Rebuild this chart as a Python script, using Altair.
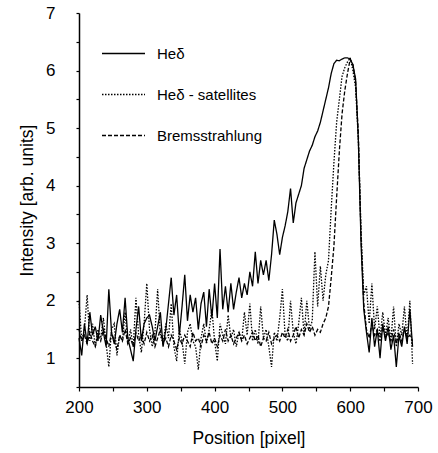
import altair as alt
import pandas as pd

positions = list(range(200, 693, 4))

he_delta = [
    1.35, 1.05, 1.6, 1.25, 1.8, 1.4, 1.55, 1.3, 1.75, 1.45, 1.2, 2.2, 1.45, 1.25, 1.6, 1.85, 1.45, 2.05, 1.35, 1.15, 0.95, 1.5, 1.9, 1.3, 1.6,
    1.7, 1.75, 1.55, 1.3, 1.55, 1.8, 1.2, 1.5, 1.95, 2.4, 1.75, 2.1, 1.4, 1.9, 2.45, 1.65, 2.1, 1.8, 2.05, 1.5, 1.95, 2.15, 1.55, 2.2, 1.7,
    2.3, 1.7, 2.9, 1.85, 2.25, 1.8, 2.3, 1.85, 2.15, 2.4, 2.05, 2.3, 2.1, 2.5, 2.25, 2.85, 2.3, 2.7, 2.45, 2.7, 2.35, 2.8, 3.4, 3.15, 2.8,
    3.1, 3.3, 3.55, 3.95, 3.35, 3.7, 3.85, 4.0, 4.3, 4.45, 4.6, 4.7, 4.85, 4.95, 5.1, 5.3, 5.5, 5.7, 5.95, 6.12, 6.18, 6.17, 6.2, 6.22, 6.22,
    6.2, 6.1, 5.85, 4.8, 3.0, 1.85, 1.45, 1.1, 1.7, 1.2, 1.5, 1.0, 1.6, 1.3, 1.55, 1.15, 1.4, 0.85, 1.4, 1.2, 1.55, 1.25, 1.85, 1.2,
]

satellites = [
    2.0, 1.3, 1.5, 2.1, 1.3, 1.6, 1.2, 1.5, 1.35, 1.7, 1.25, 0.85, 1.5, 1.6, 1.05, 1.4, 1.3, 1.8, 1.25, 1.5, 1.2, 2.05, 1.4, 1.1, 1.6,
    2.3, 1.5, 1.2, 1.45, 2.2, 1.4, 1.25, 1.6, 1.35, 1.95, 1.2, 0.95, 1.5, 1.3, 0.9, 1.45, 1.6, 1.3, 1.2, 0.8, 1.35, 1.6, 1.25, 1.5, 1.85,
    1.3, 0.95, 1.6, 1.4, 1.25, 1.75, 1.35, 1.5, 1.2, 1.45, 1.3, 1.8, 1.4, 1.95, 1.3, 1.5, 1.25, 1.9, 1.35, 1.5, 1.2, 0.85, 1.45, 1.3, 1.7,
    2.2, 1.4, 1.3, 2.0, 1.45, 1.25, 1.6, 2.05, 1.4, 2.0, 1.5, 1.65, 2.85, 1.9, 2.6, 2.0, 2.45, 2.7, 3.6, 4.4, 5.1, 5.5, 5.9, 6.05, 6.15,
    6.22, 6.0, 5.7, 4.8, 3.2, 2.1, 2.25, 1.6, 2.3, 1.5, 1.9, 1.35, 1.8, 1.4, 1.7, 1.3, 1.9, 1.2, 1.6, 1.4, 1.9, 1.3, 2.0, 0.9,
]

bremsstrahlung = [
    1.5, 1.3, 1.4, 1.25, 1.45, 1.3, 1.2, 1.4, 1.3, 1.5, 1.35, 1.2, 1.45, 1.3, 1.15, 1.4, 1.3, 1.5, 1.25, 1.35, 1.2, 1.45, 1.3, 1.4, 1.25,
    1.45, 1.3, 1.4, 1.2, 1.35, 1.5, 1.25, 1.35, 1.2, 1.4, 1.3, 1.15, 1.35, 1.25, 1.4, 1.3, 1.2, 1.45, 1.3, 1.35, 1.2, 1.4, 1.3, 1.45, 1.25,
    1.35, 1.2, 1.4, 1.3, 1.5, 1.3, 1.4, 1.25, 1.35, 1.45, 1.3, 1.4, 1.25, 1.35, 1.45, 1.3, 1.4, 1.2, 1.35, 1.3, 1.45, 1.25, 1.35, 1.4, 1.3,
    1.45, 1.35, 1.5, 1.3, 1.4, 1.55, 1.35, 1.5, 1.4, 1.6, 1.45, 1.55, 1.4, 1.5, 1.45, 1.6, 1.7, 1.9, 2.4, 2.95, 3.8, 4.6, 5.25, 5.65, 5.95,
    6.2, 6.1, 5.8, 4.9, 3.1, 1.95, 1.5, 1.35, 1.6, 1.4, 1.5, 1.3, 1.55, 1.35, 1.45, 1.3, 1.5, 1.25, 1.45, 1.3, 1.5, 1.35, 1.4, 1.3,
]

series_names = ["He\u03b4", "He\u03b4 - satellites", "Bremsstrahlung"]
x_ticks = list(range(200, 701, 50))
y_ticks = [v / 2 for v in range(1, 15)]

rows = []
for name, vals in zip(series_names, [he_delta, satellites, bremsstrahlung]):
    for p, v in zip(positions, vals):
        rows.append({"Position": p, "Intensity": v, "Series": name})
df = pd.DataFrame(rows)

FONT = "Liberation Sans"

chart = alt.Chart(df).mark_line(color="black", strokeWidth=1.3).encode(
    x=alt.X(
        "Position:Q",
        scale=alt.Scale(domain=[200, 700], nice=False, zero=False),
        axis=alt.Axis(
            title="Position [pixel]",
            values=x_ticks,
            labelExpr="datum.value % 100 == 0 ? format(datum.value, 'd') : ''",
            grid=False,
            tickSize=4,
            labelPadding=8,
            titlePadding=14,
            labelFlush=False,
        ),
    ),
    y=alt.Y(
        "Intensity:Q",
        scale=alt.Scale(domain=[0.5, 7], nice=False, zero=False),
        axis=alt.Axis(
            title="Intensity [arb. units]",
            values=y_ticks,
            labelExpr="datum.value % 1 == 0 ? format(datum.value, 'd') : ''",
            grid=False,
            tickSize=3,
            labelPadding=21,
            titlePadding=9,
            labelFlush=False,
        ),
    ),
    strokeDash=alt.StrokeDash(
        "Series:N",
        scale=alt.Scale(domain=series_names, range=[[1, 0], [1.5, 1.5], [4, 2]]),
        legend=alt.Legend(
            title=None,
            orient="none",
            legendX=22,
            legendY=18,
            symbolType="stroke",
            symbolSize=1849,
            symbolStrokeWidth=1.5,
            symbolStrokeColor="black",
            labelFontSize=15,
            labelFont=FONT,
            labelColor="black",
            labelOffset=11,
            rowPadding=10,
            padding=0,
        ),
    ),
    order=alt.Order("Position:Q"),
).properties(
    width=339,
    height=374,
    autosize=alt.AutoSizeParams(type="none"),
    padding={"left": 79, "top": 13, "right": 20, "bottom": 66},
    background="white",
).configure_view(
    stroke=None
).configure_axis(
    domainColor="black",
    domainWidth=1.5,
    tickColor="black",
    tickWidth=1.2,
    labelColor="black",
    titleColor="black",
    labelFont=FONT,
    titleFont=FONT,
    labelFontSize=17,
    titleFontSize=17.5,
    titleFontWeight="normal",
)

chart.save("out.html", embed_options={"renderer": "svg", "actions": False})
